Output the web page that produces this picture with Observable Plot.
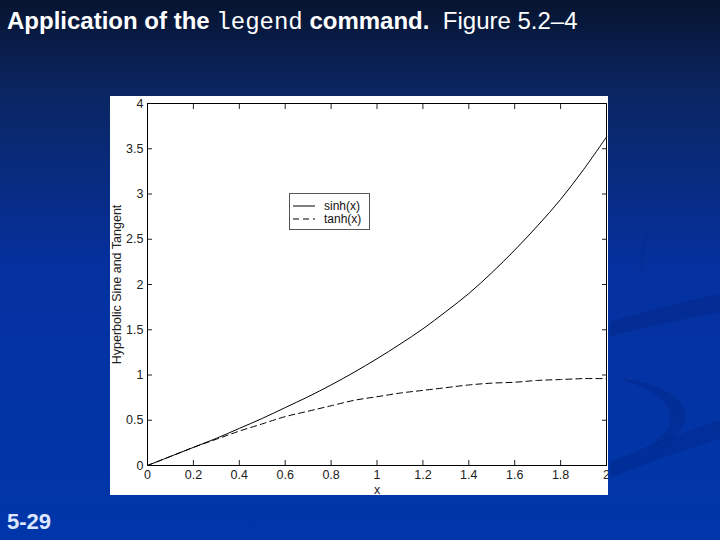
<!DOCTYPE html>
<html>
<head>
<meta charset="utf-8">
<script src="https://cdn.jsdelivr.net/npm/d3@7"></script>
<script src="https://cdn.jsdelivr.net/npm/@observablehq/plot@0.6"></script>
<style>
  html, body { margin: 0; padding: 0; }
  body {
    width: 720px; height: 540px; position: relative; overflow: hidden;
    background: linear-gradient(to bottom, #071430 0%, #0a2663 18%, #0531a0 50%, #0036aa 100%);
    font-family: Arial, "Liberation Sans", sans-serif;
  }
  #title {
    position: absolute; left: 7px; top: 7px; color: #fff; font-size: 24px;
    white-space: pre;
  }
  #title b { font-weight: bold; }
  #title code { font-family: "Liberation Mono", "Courier New", monospace; font-size: 24px; font-weight: normal; }
  #slideno { position: absolute; left: 7px; top: 509px; color: #dde6ff; font-size: 22px; font-weight: bold; }
  #chart { position: absolute; left: 110px; top: 96px; background: #fff; }
  #chart g[aria-label$="tick label"] text { font-size: 12.5px; }
  #legend {
    position: absolute; left: 289px; top: 193px; width: 79px; height: 35px;
    border: 1px solid #555; background: #fff; font-size: 12px; color: #111;
  }
  #legend .row { position: absolute; left: 2px; height: 13px; display: flex; align-items: center; }
  #legend svg { display: block; }
  #deco { position: absolute; left: 0; top: 0; }
</style>
</head>
<body>
<svg id="deco" width="720" height="540">
  <path d="M610,322 C650,310 690,300 720,294 L720,312 C690,318 650,326 610,336 Z" fill="rgba(0,10,60,0.13)"/>
  <path d="M610,462 C650,446 690,430 720,420 L720,438 C690,448 650,462 610,478 Z" fill="rgba(0,10,60,0.13)"/>
  <path d="M618,378 C660,382 685,398 686,416 C686,432 670,442 645,448 C662,438 672,428 670,415 C667,398 648,388 618,378 Z" fill="rgba(0,10,60,0.12)"/>
  <path d="M638,270 C640,255 642,242 646,232 L649,234 C646,245 644,257 642,270 Z" fill="rgba(0,10,60,0.04)"/>
</svg>
<div id="title"><b>Application of the </b><code>legend</code><b> command.</b>  Figure 5.2–4</div>
<div id="slideno">5-29</div>
<div id="chart"></div>
<div id="legend">
  <div class="row" style="top:5px"><svg width="24" height="4"><line x1="1" y1="2" x2="23" y2="2" stroke="#000" stroke-width="1"/></svg><span style="margin-left:8px">sinh(x)</span></div>
  <div class="row" style="top:18px"><svg width="24" height="4"><line x1="1" y1="2" x2="23" y2="2" stroke="#000" stroke-width="1" stroke-dasharray="6,4"/></svg><span style="margin-left:8px">tanh(x)</span></div>
</div>
<script>
// values
const xs    = [0, 0.1, 0.2, 0.3, 0.4, 0.5, 0.6, 0.7, 0.8, 0.9, 1.0, 1.1, 1.2, 1.3, 1.4, 1.5, 1.6, 1.7, 1.8, 1.9, 2.0];
const sinhY = [0, 0.10, 0.20, 0.30, 0.41, 0.52, 0.64, 0.76, 0.89, 1.03, 1.18, 1.34, 1.51, 1.70, 1.90, 2.13, 2.38, 2.65, 2.94, 3.27, 3.63];
const tanhY = [0, 0.10, 0.20, 0.29, 0.38, 0.46, 0.54, 0.60, 0.66, 0.72, 0.76, 0.80, 0.83, 0.86, 0.89, 0.91, 0.92, 0.94, 0.95, 0.96, 0.96];
const xTicks = [0, 0.2, 0.4, 0.6, 0.8, 1, 1.2, 1.4, 1.6, 1.8, 2];
const yTicks = [0, 0.5, 1, 1.5, 2, 2.5, 3, 3.5, 4];
const xTickLabels = ["0", "0.2", "0.4", "0.6", "0.8", "1", "1.2", "1.4", "1.6", "1.8", "2"];
const yTickLabels = ["0", "0.5", "1", "1.5", "2", "2.5", "3", "3.5", "4"];

const sinhData = xs.map((x, i) => ({x, y: sinhY[i]}));
const tanhData = xs.map((x, i) => ({x, y: tanhY[i]}));
const fmtX = d => xTickLabels[xTicks.indexOf(d)] ?? "";
const fmtY = d => yTickLabels[yTicks.indexOf(d)] ?? "";

const chart = Plot.plot({
  width: 498,
  height: 399,
  marginLeft: 37,
  marginTop: 7,
  marginRight: 2,
  marginBottom: 30,
  style: {background: "#fff", fontFamily: "Arial, 'Liberation Sans', sans-serif", fontSize: "12.5px", color: "#222"},
  x: {domain: [0, 2]},
  y: {domain: [0, 4]},
  marks: [
    Plot.axisX({anchor: "bottom", ticks: xTicks, tickFormat: fmtX, tickSize: -5, tickPadding: 10,
      label: "x", labelAnchor: "center", labelOffset: 28, labelArrow: "none", fontSize: 12.5}),
    Plot.axisX({anchor: "top", ticks: xTicks, tickFormat: () => "", tickSize: -5, label: null}),
    Plot.axisY({anchor: "left", ticks: yTicks, tickFormat: fmtY, tickSize: -5, tickPadding: 9,
      label: "Hyperbolic Sine and Tangent", labelAnchor: "center", labelOffset: 35, labelArrow: "none", fontSize: 12.5}),
    Plot.axisY({anchor: "right", ticks: yTicks, tickFormat: () => "", tickSize: -5, label: null}),
    Plot.frame({stroke: "#000"}),
    Plot.line(sinhData, {x: "x", y: "y", stroke: "#000", strokeWidth: 1, curve: "catmull-rom"}),
    Plot.line(tanhData, {x: "x", y: "y", stroke: "#000", strokeWidth: 1, strokeDasharray: "6,4", curve: "catmull-rom"})
  ]
});
document.getElementById("chart").appendChild(chart);
</script>
</body>
</html>
